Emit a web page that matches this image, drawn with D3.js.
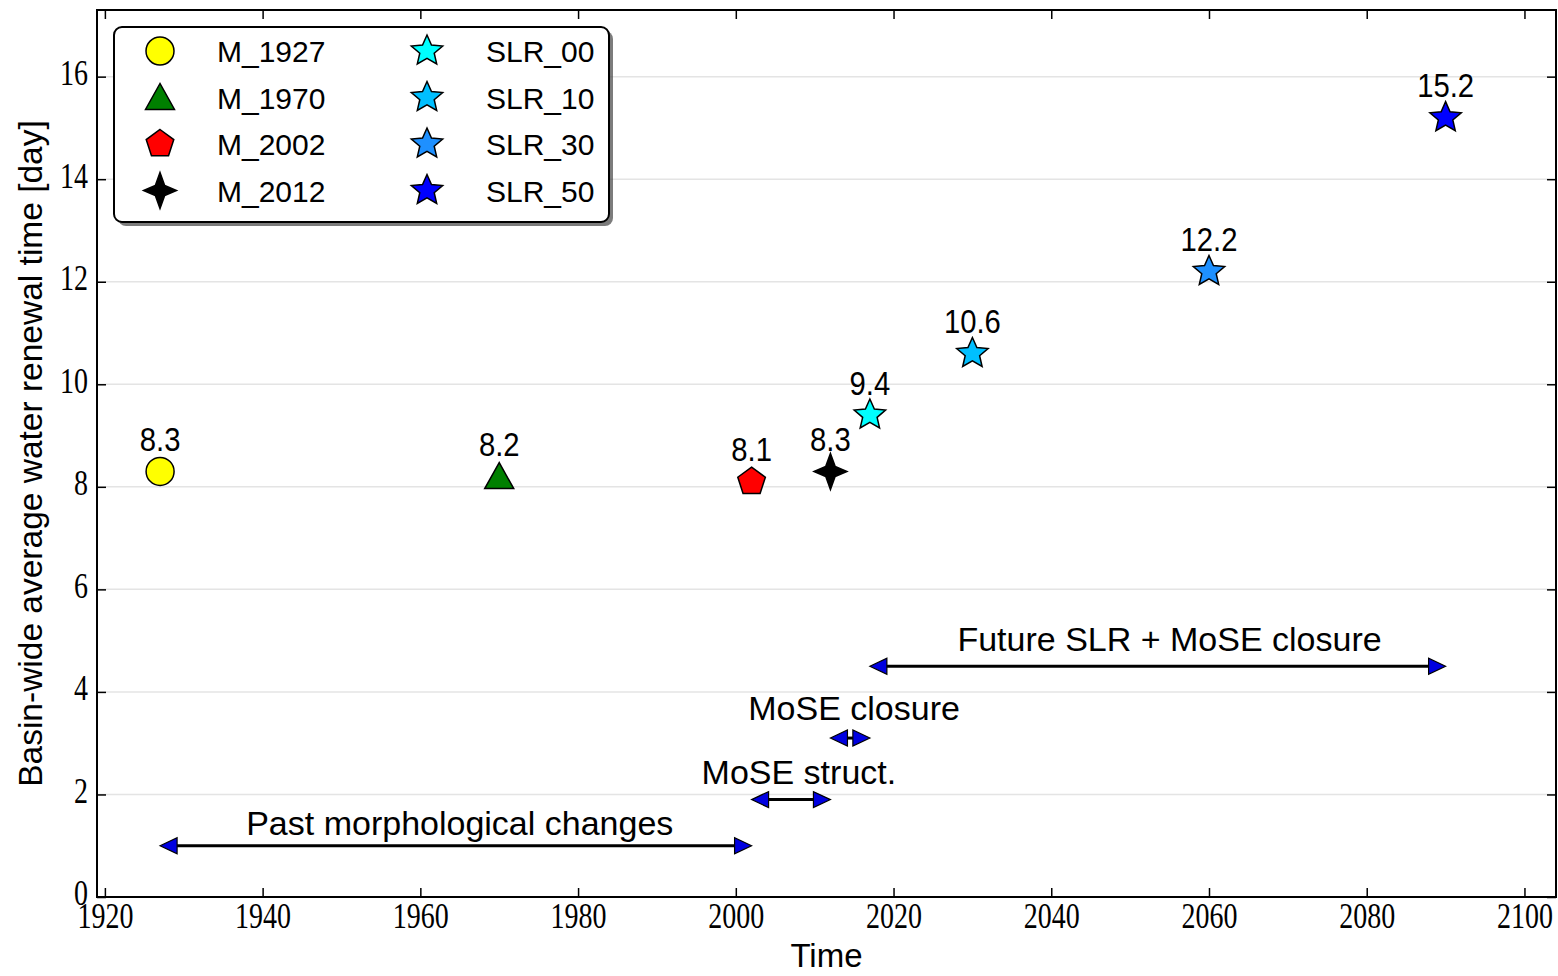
<!DOCTYPE html>
<html lang="en">
<head>
<meta charset="utf-8" />
<title>Basin-wide average water renewal time</title>
<script src="https://d3js.org/d3.v7.min.js"></script>
<style>
  body { margin: 0; background: #fff; }
</style>
</head>
<body>
<div id="chart"></div>
<script>
// scenarios: name, year, renewal time (days)
const names = ["M_1927", "M_1970", "M_2002", "M_2012", "SLR_00", "SLR_10", "SLR_30", "SLR_50"];
const years = [1927, 1970, 2002, 2012, 2017, 2030, 2060, 2090];
const renewal = [8.3, 8.2, 8.1, 8.3, 9.4, 10.6, 12.2, 15.2];
const shapes = ["circle", "triangle", "pentagon", "star4", "star5", "star5", "star5", "star5"];
const colors = ["#ffff00", "#008000", "#ff0000", "#000000", "#00ffff", "#00bfff", "#1e90ff", "#0000ff"];

// period arrows
const periodLabels = ["Past morphological changes", "MoSE struct.", "MoSE closure", "Future SLR + MoSE closure"];
const periodStart = [1927, 2002, 2012, 2017];
const periodEnd = [2002, 2012, 2017, 2090];
const periodY = [1.0, 1.9, 3.1, 4.5];
const periodTextX = [1965, 2008, 2015, 2055];
const periodTextY = [1.2, 2.2, 3.45, 4.8];

// ticks
const xTicks = [1920, 1940, 1960, 1980, 2000, 2020, 2040, 2060, 2080, 2100];
const yTicks = [0, 2, 4, 6, 8, 10, 12, 14, 16];

const margin = {top: 10, right: 2, bottom: 79, left: 97},
    width = 1558 - margin.left - margin.right,
    height = 976 - margin.top - margin.bottom;

const svgRoot = d3.select("#chart")
  .append("svg")
    .attr("width", 1558)
    .attr("height", 976);
const svg = svgRoot.append("g")
    .attr("transform", `translate(${margin.left}, ${margin.top})`);

const x = d3.scaleLinear().domain([1919, 2104]).range([0, width]);
const y = d3.scaleLinear().domain([0, 17.3]).range([height, 0]);

const sans = "'Liberation Sans', Arial, sans-serif";
const serif = "'Liberation Serif', 'DejaVu Serif', serif";

// light horizontal grid
svg.append("g")
  .selectAll("line")
  .data(yTicks.filter(d => d > 0))
  .join("line")
    .attr("x1", 0).attr("x2", width)
    .attr("y1", d => y(d)).attr("y2", d => y(d))
    .style("stroke", "#e4e4e4")
    .style("stroke-width", 1.5);

// axes, ticks pointing inward
function styleAxis(g, labels) {
  g.select(".domain").remove();
  g.selectAll(".tick line").style("stroke", "#000").style("stroke-width", 1.5);
  g.selectAll(".tick text")
    .style("font-family", serif)
    .style("font-size", "36px")
    .style("fill", "#000")
    .attr("textLength", d => labels ? String(d).length * 14 : null)
    .attr("lengthAdjust", "spacingAndGlyphs");
}
svg.append("g")
  .attr("transform", `translate(0, ${height})`)
  .call(d3.axisBottom(x).tickValues(xTicks).tickFormat(d3.format("d")).tickSizeInner(-9).tickSizeOuter(0).tickPadding(5))
  .call(g => styleAxis(g, true));
svg.append("g")
  .call(d3.axisTop(x).tickValues(xTicks).tickSizeInner(-9).tickSizeOuter(0).tickFormat(""))
  .call(g => styleAxis(g, false));
svg.append("g")
  .call(d3.axisLeft(y).tickValues(yTicks).tickFormat(d3.format("d")).tickSizeInner(-9).tickSizeOuter(0).tickPadding(9))
  .call(g => styleAxis(g, true))
  .selectAll(".tick text").attr("dy", "0.22em");
svg.append("g")
  .attr("transform", `translate(${width}, 0)`)
  .call(d3.axisRight(y).tickValues(yTicks).tickSizeInner(-9).tickSizeOuter(0).tickFormat(""))
  .call(g => styleAxis(g, false));

// frame
svg.append("rect")
  .attr("width", width).attr("height", height)
  .style("fill", "none").style("stroke", "#000").style("stroke-width", 2);

// axis labels
svg.append("text")
  .attr("x", width / 2)
  .attr("y", height + 70)
  .attr("text-anchor", "middle")
  .style("font-family", sans).style("font-size", "33px")
  .text("Time");
svg.append("text")
  .attr("transform", "rotate(-90)")
  .attr("x", -height / 2)
  .attr("y", -margin.left + 42)
  .attr("text-anchor", "middle")
  .style("font-family", sans).style("font-size", "33.5px")
  .text("Basin-wide average water renewal time [day]");

// marker shapes
function poly(n, rx, ry, inner) {
  const pts = [];
  const k = inner ? n * 2 : n;
  for (let i = 0; i < k; i++) {
    const a = i * Math.PI * 2 / k;
    const f = inner && i % 2 ? inner : 1;
    pts.push([rx * f * Math.sin(a), -ry * f * Math.cos(a)]);
  }
  return "M" + pts.map(p => p.join(",")).join("L") + "Z";
}
function shapePath(s) {
  if (s === "circle") return d3.symbol(d3.symbolCircle, Math.PI * 14 * 14)();
  if (s === "triangle") return "M0,-14L-14.5,12L14.5,12Z";
  if (s === "pentagon") return poly(5, 14.5, 14.5, 0);
  if (s === "star4") return poly(4, 16.5, 18, 0.4);
  return poly(5, 16.5, 16, 0.46);
}

// period arrows
const headLen = 17, headHalf = 8;
const arrows = svg.append("g")
  .selectAll("g")
  .data(periodLabels)
  .join("g");
arrows.append("line")
  .attr("x1", (d, i) => x(periodStart[i]) + headLen - 2)
  .attr("x2", (d, i) => x(periodEnd[i]) - headLen + 2)
  .attr("y1", (d, i) => y(periodY[i]))
  .attr("y2", (d, i) => y(periodY[i]))
  .style("stroke", "#000").style("stroke-width", 3);
arrows.append("path")
  .attr("d", (d, i) => {
    const x0 = x(periodStart[i]), yy = y(periodY[i]);
    return `M${x0},${yy}L${x0 + headLen},${yy - headHalf}L${x0 + headLen},${yy + headHalf}Z`;
  })
  .style("fill", "#0000e0").style("stroke", "#000").style("stroke-width", 1.2);
arrows.append("path")
  .attr("d", (d, i) => {
    const x1 = x(periodEnd[i]), yy = y(periodY[i]);
    return `M${x1},${yy}L${x1 - headLen},${yy - headHalf}L${x1 - headLen},${yy + headHalf}Z`;
  })
  .style("fill", "#0000e0").style("stroke", "#000").style("stroke-width", 1.2);
arrows.append("text")
  .attr("x", (d, i) => x(periodTextX[i]))
  .attr("y", (d, i) => y(periodTextY[i]))
  .attr("text-anchor", "middle")
  .style("font-family", sans).style("font-size", "34px")
  .text(d => d);

// points and value labels
const pts = svg.append("g")
  .selectAll("g")
  .data(names)
  .join("g")
    .attr("transform", (d, i) => `translate(${x(years[i])}, ${y(renewal[i])})`);
pts.append("path")
  .attr("d", (d, i) => shapePath(shapes[i]))
  .style("fill", (d, i) => colors[i])
  .style("stroke", "#000").style("stroke-width", 1.5);
svg.append("g")
  .selectAll("text")
  .data(renewal)
  .join("text")
    .attr("x", (d, i) => x(years[i]))
    .attr("y", d => y(d + 0.4))
    .attr("text-anchor", "middle")
    .style("font-family", sans).style("font-size", "34px")
    .text(d => d.toFixed(1))
    .each(function () {
      // labels are narrower than tall in the original
      d3.select(this)
        .attr("textLength", this.getComputedTextLength() * 0.86)
        .attr("lengthAdjust", "spacingAndGlyphs");
    });

// legend
const legend = svg.append("g").attr("transform", "translate(17, 17)");
legend.append("rect")
  .attr("x", 4).attr("y", 4).attr("width", 495).attr("height", 195).attr("rx", 8)
  .style("fill", "#444").style("opacity", 0.7);
legend.append("rect")
  .attr("width", 495).attr("height", 195).attr("rx", 8)
  .style("fill", "#fff").style("stroke", "#000").style("stroke-width", 2);
const items = legend.selectAll("g.item")
  .data(names)
  .join("g")
    .attr("class", "item")
    .attr("transform", (d, i) => `translate(${i < 4 ? 46 : 313}, ${24 + (i % 4) * 46.5})`);
items.append("path")
  .attr("d", (d, i) => shapePath(shapes[i]))
  .style("fill", (d, i) => colors[i])
  .style("stroke", "#000").style("stroke-width", 1.5);
items.append("text")
  .attr("x", (d, i) => i < 4 ? 57 : 59)
  .attr("y", 11)
  .style("font-family", sans).style("font-size", "30px")
  .text(d => d);
</script>
</body>
</html>
